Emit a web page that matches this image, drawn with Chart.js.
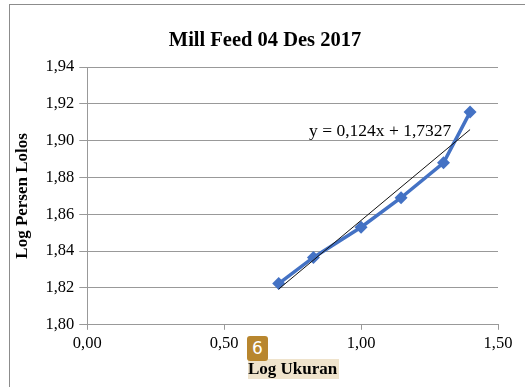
<!DOCTYPE html>
<html>
<head>
<meta charset="utf-8">
<script src="https://cdn.jsdelivr.net/npm/chart.js@4/dist/chart.umd.min.js"></script>
<style>
  html, body { margin: 0; padding: 0; background: #fff; }
  #wrap { position: relative; width: 525px; height: 387px; overflow: hidden; }
  #frame { position: absolute; left: 9px; top: 4px; width: 600px; height: 500px; border: 1px solid #8c8c8c; box-sizing: border-box; }
  #badge { position: absolute; left: 247px; top: 336px; width: 21px; height: 25px; background: #b8862e; color: #fff;
           border-radius: 3px; font: 17px "DejaVu Sans", sans-serif; text-align: center; line-height: 25px; }
  #xhl { position: absolute; left: 248px; top: 359px; width: 91px; height: 20px; background: #efe3cc; }
  canvas { position: absolute; left: 0; top: 0; }
</style>
</head>
<body>
<div id="wrap">
  <div id="frame"></div>
  <div id="xhl"></div>
  <canvas id="chart" width="525" height="387"></canvas>
  <div id="badge">6</div>
</div>
<script>
// Dados
const logUkuran = [0.699, 0.826, 1.000, 1.146, 1.301, 1.398];
const logLolos = [1.8224, 1.8366, 1.8530, 1.8690, 1.8880, 1.9155];

// Linha de tendência: y = 0,124x + 1,7327
const trendX = [0.699, 1.398];
const trendY = [1.8194, 1.9060];

const xTicks = [0, 0.5, 1.0, 1.5];
const yTicks = [1.80, 1.82, 1.84, 1.86, 1.88, 1.90, 1.92, 1.94];

const chartTitle = 'Mill Feed 04 Des 2017';
const equation = 'y = 0,124x + 1,7327';

const fmt = v => v.toFixed(2).replace('.', ',');
const serif = '"Liberation Serif", serif';

// Título e texto da equação
const textos = {
    id: 'textos',
    afterDatasetsDraw(chart) {
        const { ctx, scales } = chart;
        ctx.save();
        ctx.fillStyle = '#000';
        ctx.textBaseline = 'alphabetic';
        ctx.font = 'bold 20.5px ' + serif;
        ctx.textAlign = 'center';
        ctx.fillText(chartTitle, 265, 46);
        ctx.font = '17.5px ' + serif;
        ctx.textAlign = 'left';
        ctx.fillText(equation, scales.x.getPixelForValue(0.81), scales.y.getPixelForValue(1.9028));
        ctx.restore();
    }
};

new Chart(document.getElementById('chart').getContext('2d'), {
    type: 'scatter',
    data: {
        datasets: [{
            data: logUkuran.map((x, i) => ({ x: x, y: logLolos[i] })),
            showLine: true,
            borderColor: '#4472C4',
            backgroundColor: '#4472C4',
            borderWidth: 3.5,
            pointStyle: 'rectRot',
            pointRadius: 6.5,
            pointBorderWidth: 0,
            order: 2
        }, {
            data: trendX.map((x, i) => ({ x: x, y: trendY[i] })),
            showLine: true,
            borderColor: '#111',
            borderWidth: 1,
            pointRadius: 0,
            order: 1
        }]
    },
    options: {
        responsive: false,
        animation: false,
        layout: { padding: { left: 12, right: 27, top: 67, bottom: 7 } },
        plugins: {
            legend: { display: false },
            tooltip: { enabled: false },
            title: { display: false }
        },
        scales: {
            x: {
                type: 'linear',
                min: 0, max: 1.5,
                afterBuildTicks: axis => { axis.ticks = xTicks.map(v => ({ value: v })); },
                ticks: { callback: fmt, color: '#000', font: { family: serif, size: 16.5 }, padding: 4, maxRotation: 0 },
                grid: { display: true, drawOnChartArea: false, drawTicks: true, tickLength: 5, color: '#999' },
                border: { color: '#999', width: 1 },
                title: { display: true, text: 'Log Ukuran', color: '#000', font: { family: serif, size: 17, weight: 'bold' }, padding: { top: 2, bottom: 0 } }
            },
            y: {
                min: 1.80, max: 1.94,
                afterBuildTicks: axis => { axis.ticks = yTicks.map(v => ({ value: v })); },
                ticks: { callback: fmt, color: '#000', font: { family: serif, size: 16.5 }, padding: 5 },
                grid: { color: '#999', tickLength: 8 },
                border: { color: '#999', width: 1 },
                title: { display: true, text: 'Log Persen Lolos', color: '#000', font: { family: serif, size: 17, weight: 'bold' }, padding: { top: 0, bottom: 8 } }
            }
        }
    },
    plugins: [textos]
});
</script>
</body>
</html>
